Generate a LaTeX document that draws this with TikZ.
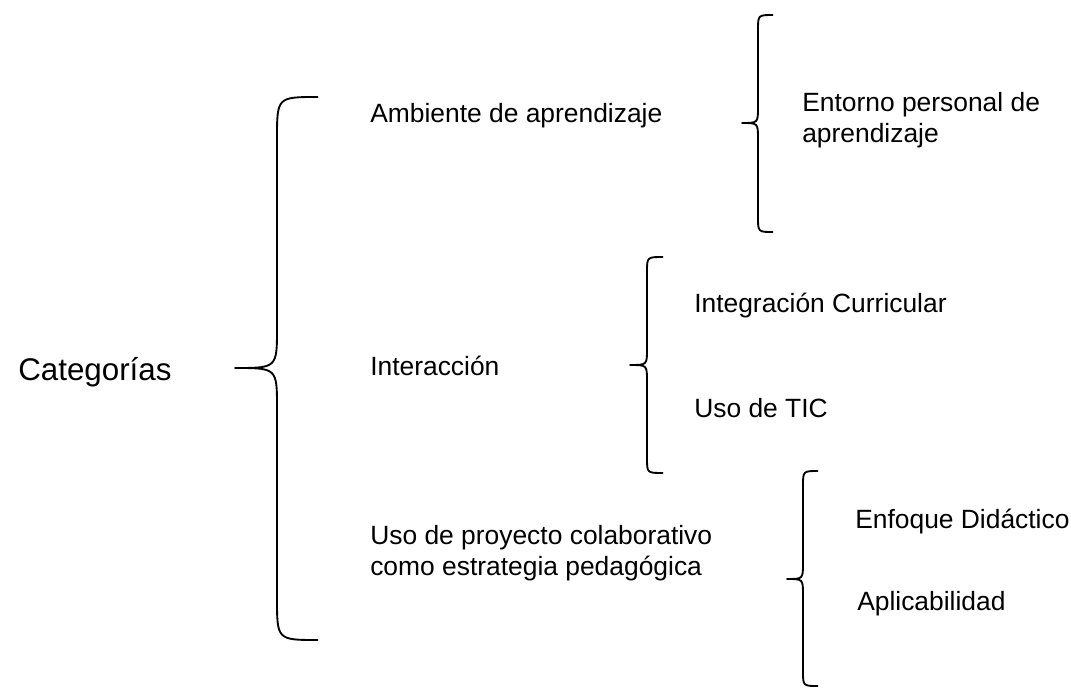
\documentclass[tikz,border=0pt]{standalone}
\usepackage{fontspec}
\setmainfont{Liberation Sans}
\begin{document}
\begin{tikzpicture}[x=0.75pt,y=-0.75pt,
    llave/.style={line width=1.4pt,line join=round},
    texto/.style={anchor=base west,inner sep=0pt,font=\fontsize{19.8}{23}\selectfont},
    titulo/.style={anchor=base west,inner sep=0pt,font=\fontsize{23.5}{28}\selectfont}]
        \useasboundingbox (0,0) rectangle (1071,688);

        \node[titulo] (cat) at (18,380) {Categorías};

        % big brace
        \coordinate (pico0) at (235,368);
        \draw[llave] (318,97) .. controls (277,97) .. (277,139) -- (277,328)
             .. controls (277,368) .. (pico0) .. controls (277,368) .. (277,408)
             -- (277,598) .. controls (277,640) .. (318,640);

        \node[texto] (amb) at (370,123) {Ambiente de aprendizaje};
        \node[texto] (inter) at (370,375) {Interacción};
        \node[texto] (uso1) at (370,544) {Uso de proyecto colaborativo};
        \node[texto] (uso2) at (370,575) {como estrategia pedagógica};

        % brace of Ambiente
        \coordinate (pico1) at (742,123);
        \draw[llave] (773,15) .. controls (758,15) .. (758,30) -- (758,107)
             .. controls (758,123) .. (pico1) .. controls (758,123) .. (758,139)
             -- (758,217) .. controls (758,232) .. (773,232);
        \node[texto] (ent1) at (802,112) {Entorno personal de};
        \node[texto] (ent2) at (802,143) {aprendizaje};

        % brace of Interaccion
        \coordinate (pico2) at (630,365);
        \draw[llave] (663,257) .. controls (647,257) .. (647,272) -- (647,349)
             .. controls (647,365) .. (pico2) .. controls (647,365) .. (647,381)
             -- (647,458) .. controls (647,473) .. (663,473);
        \node[texto] (integ) at (694,312) {Integración Curricular};
        \node[texto] (tic) at (694,417) {Uso de TIC};

        % brace of proyecto
        \coordinate (pico3) at (787,579);
        \draw[llave] (818,471) .. controls (803,471) .. (803,486) -- (803,563)
             .. controls (803,579) .. (pico3) .. controls (803,579) .. (803,595)
             -- (803,671) .. controls (803,686) .. (818,686);
        \node[texto] (enf) at (855,528) {Enfoque Didáctico};
        \node[texto] (apl) at (857,610) {Aplicabilidad};
\end{tikzpicture}
\end{document}
